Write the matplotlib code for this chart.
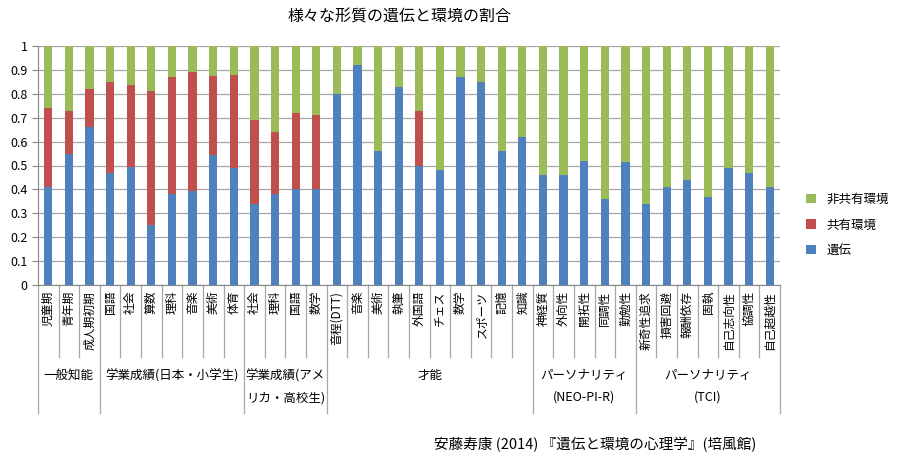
import matplotlib
matplotlib.use("Agg")
import matplotlib.pyplot as plt
from matplotlib.transforms import blended_transform_factory
import numpy as np

plt.rcParams['font.family'] = ['Noto Sans CJK JP', 'DejaVu Sans']

categories = ["児童期","青年期","成人期初期",
              "国語","社会","算数","理科","音楽","美術","体育",
              "社会","理科","国語","数学",
              "音程(DTT)","音楽","美術","執筆","外国語","チェス","数学","スポーツ","記憶","知識",
              "神経質","外向性","開拓性","同調性","勤勉性",
              "新奇性追求","損害回避","報酬依存","固執","自己志向性","協調性","自己超越性"]
genetic = [0.41,0.55,0.66,
           0.47,0.495,0.25,0.38,0.395,0.545,0.49,
           0.34,0.38,0.40,0.40,
           0.80,0.92,0.56,0.83,0.50,0.48,0.87,0.85,0.56,0.62,
           0.46,0.46,0.52,0.36,0.515,
           0.34,0.41,0.44,0.37,0.49,0.47,0.41]
shared = [0.33,0.18,0.16,
          0.38,0.34,0.56,0.49,0.495,0.33,0.39,
          0.35,0.26,0.32,0.31,
          0,0,0,0,0.23,0,0,0,0,0,
          0,0,0,0,0,
          0,0,0,0,0,0,0]
nonshared = [1 - g - s for g, s in zip(genetic, shared)]
groups = [("一般知能", 3), ("学業成績(日本・小学生)", 7), ("学業成績(アメ\nリカ・高校生)", 4),
          ("才能", 10), ("パーソナリティ\n(NEO-PI-R)", 5), ("パーソナリティ\n(TCI)", 7)]

fig = plt.figure(figsize=(9, 4.66), dpi=100)
ax = fig.add_axes([38/900, 1-285/466, 742/900, 239/466])
x = np.arange(len(categories))
blue, red, green = "#4f81bd", "#c0504d", "#9bbb59"
w = 0.4
ax.bar(x, genetic, w, color=blue, label="遺伝", zorder=3)
ax.bar(x, shared, w, bottom=genetic, color=red, label="共有環境", zorder=3)
ax.bar(x, nonshared, w, bottom=np.array(genetic)+np.array(shared), color=green, label="非共有環境", zorder=3)
ax.set_xlim(-0.5, len(categories)-0.5)
ax.set_ylim(0, 1)
ax.set_yticks(np.arange(0, 1.01, 0.1))
ax.set_yticklabels(["0"] + [f"{v:.1f}" for v in np.arange(0.1, 0.95, 0.1)] + ["1"], fontsize=9)
ax.yaxis.grid(True, color="#a6a6a6", lw=0.9, zorder=0)
ax.tick_params(axis='y', length=4, color="#868686")
ax.tick_params(axis='x', length=0)
ax.set_xticks([])
for s in ["top", "right"]:
    ax.spines[s].set_visible(False)
ax.spines["left"].set_color("#868686")
ax.spines["bottom"].set_color("#868686")

tr = blended_transform_factory(ax.transData, ax.transAxes)
px = 1/239
from matplotlib.lines import Line2D
def vline(xv, y0, y1):
    ax.add_line(Line2D([xv, xv], [y0, y1], transform=tr, color="#a6a6a6", lw=0.9, clip_on=False))
for i, c in enumerate(categories):
    ax.text(i, -6*px, c, transform=tr, rotation=90, ha="center", va="top", fontsize=8.5,
            rotation_mode="default")
bounds = np.cumsum([0] + [n for _, n in groups])
for i in range(len(categories)+1):
    xv = i - 0.5
    if i in bounds:
        vline(xv, 0, -128*px)
    else:
        vline(xv, 0, -72*px)
for (name, n), b in zip(groups, bounds[:-1]):
    ax.text(b + n/2 - 0.5, -84*px, name, transform=tr, ha="center", va="top", fontsize=9,
            linespacing=1.9)

fig.text(400/900, 1-17/466, "様々な形質の遺伝と環境の割合", ha="center", va="center", fontsize=11.5)
fig.text(595/900, 1-445/466, "安藤寿康 (2014) 『遺伝と環境の心理学』(培風館)", ha="center", va="center", fontsize=10.5)
h, l = ax.get_legend_handles_labels()
fig.legend(h[::-1], l[::-1], loc="center left", bbox_to_anchor=(795/900, 1-225/466),
           frameon=False, fontsize=9, handlelength=0.8, handleheight=0.8, labelspacing=1.0)
fig.savefig("out.png", dpi=100, facecolor="white")
